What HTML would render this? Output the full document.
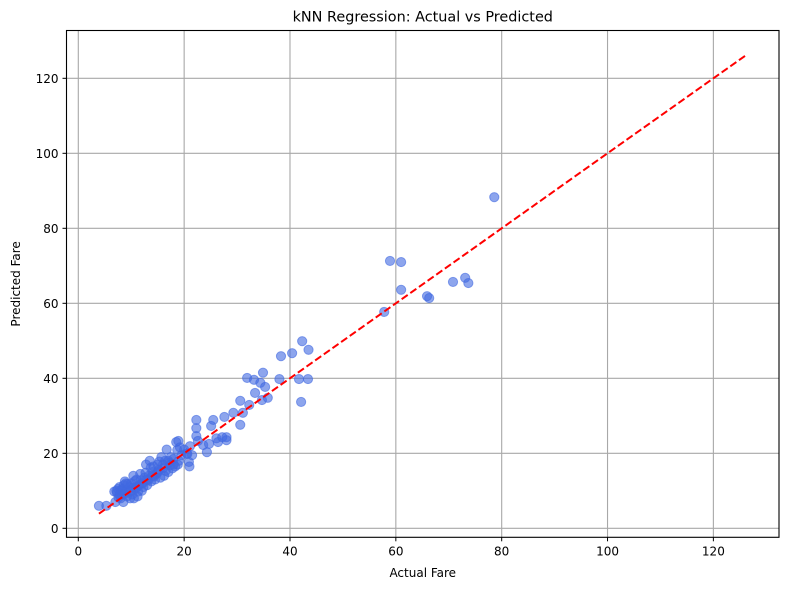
<!DOCTYPE html>
<html><head><meta charset="utf-8"><style>
body{margin:0;background:#fff;}
svg text{font-family:"DejaVu Sans","Liberation Sans",sans-serif;}
</style></head><body>
<svg id="chart" width="789" height="590" xmlns="http://www.w3.org/2000/svg"></svg>
<script>
const xTicks=[0,20,40,60,80,100,120];
const yTicks=[0,20,40,60,80,100,120];
const actual=[3.9,5.3,7,7.3,7.5,7.8,8,8.2,8.5,8.6,8.8,9,9.2,9.5,9.7,10,10.2,10.4,10.5,10.8,11,11.2,11.5,11.7,12,12.2,12.5,12.8,13,13.3,13.5,13.8,14,14.2,14.5,14.8,15,15.2,15.5,15.7,16,16.2,16.4,16.7,17,17.2,17.5,17.8,18,18.3,18.5,18.8,19,19.5,20,20.5,21,21.5,
7.2,7.8,8.3,8.7,9.3,9.8,10.3,10.7,11.3,11.8,12.3,12.7,13.2,13.7,14.3,15.3,16.5,17.3,9,8,6.8,7.6,10,11,12,13,14,15,16,17,18,
21.1,20.6,19.2,20.9,18.9,18.7,22.3,22.3,22.3,22.6,23.6,24.3,24.7,26.1,27.2,28,28,26.4,25.5,25.1,27.6,29.3,31.1,30.6,30.6,32.3,33.4,34.7,35.8,31.9,33.2,34.4,34.9,35.3,38,41.7,43.4,42.1,38.3,40.4,42.3,43.5,
57.8,58.9,61,61,65.9,66.3,70.8,73.1,73.7,78.6];
const predicted=[6,6,7,9.5,10.5,11,8,9,7,11.5,12.5,10,8.5,9.5,11,12,9,14,8,10.5,13,8.5,11.5,14.5,10,12,13.5,17,11.5,14,18,12.5,15,16.5,13,14.5,17,15.5,13.5,19,16,14,18,21,15,17.5,19,16,18.5,16.5,23,17,18,19.5,21,20,16.5,19.5,
10,9,10.5,9.2,11.8,8,10.8,12.6,9.8,12.8,11,14.8,12.8,16.2,13.8,17.8,15.3,16.8,12,10,9.8,8.2,10,11,12,13,14,15,17,18,17,
21.9,19.8,21.6,17.7,23.3,20.9,28.9,26.7,24.6,23.3,22.2,20.3,22.5,24,24.3,24.3,23.5,23,28.9,27.3,29.7,30.8,30.8,34,27.6,32.9,36.1,34.2,34.8,40.1,39.6,38.8,41.5,37.7,39.8,39.8,39.8,33.7,45.9,46.7,49.9,47.6,
57.7,71.3,71,63.6,61.9,61.4,65.7,66.8,65.4,88.3];
const L=66.5,R=779,T=30.5,B=537.3;
const xMin=-2.23,xMax=132.4,yMin=-2.4,yMax=132.75;
const sx=v=>L+(v-xMin)/(xMax-xMin)*(R-L);
const sy=v=>B-(v-yMin)/(yMax-yMin)*(B-T);
const svg=document.getElementById('chart');
const NS='http://www.w3.org/2000/svg';
function mk(tag,attrs,parent){const e=document.createElementNS(NS,tag);for(const k in attrs)e.setAttribute(k,attrs[k]);(parent||svg).appendChild(e);return e;}
xTicks.forEach(t=>{
 const g=mk('line',{x1:sx(t),x2:sx(t),y1:T,y2:B,stroke:'#a8a8a8','stroke-width':1.1});
 
 
 const tk=mk('line',{x1:sx(t),x2:sx(t),y1:B,y2:B+4,stroke:'#000'});
 
 
 const tx=mk('text',{x:sx(t),y:B+18,'text-anchor':'middle','font-size':12,fill:'#000'});
 tx.textContent=t;
 
 
});
yTicks.forEach(t=>{
 const g=mk('line',{x1:L,x2:R,y1:sy(t),y2:sy(t),stroke:'#a8a8a8','stroke-width':1.1});
 
 
 const tk=mk('line',{x1:L-4,x2:L,y1:sy(t),y2:sy(t),stroke:'#000'});
 
 
 const tx=mk('text',{x:L-8,y:sy(t)+4.5,'text-anchor':'end','font-size':12,fill:'#000'});
 tx.textContent=t;
 
 
});
actual.forEach((a,i)=>{
 const c=mk('circle',{cx:sx(a),cy:sy(predicted[i]),r:4.6,fill:'#4169e1','fill-opacity':0.6,stroke:'#4169e1','stroke-opacity':0.6,'stroke-width':1});
 
 
});
const lo=Math.min(...actual,...predicted);
const dl=mk('line',{x1:sx(lo),y1:sy(lo),x2:sx(126.4),y2:sy(126.4),stroke:'#ff0000','stroke-width':2,'stroke-dasharray':'7.4,3.2'});


const fr=mk('rect',{x:L,y:T,width:R-L,height:B-T,fill:'none',stroke:'#000','stroke-width':1.1});


const ti=mk('text',{x:(L+R)/2,y:T-9,'text-anchor':'middle','font-size':14.4,fill:'#000'});
ti.textContent='kNN Regression: Actual vs Predicted';


const xl=mk('text',{x:(L+R)/2,y:577,'text-anchor':'middle','font-size':12,fill:'#000'});
xl.textContent='Actual Fare';


const yl=mk('text',{x:20,y:(T+B)/2,'text-anchor':'middle','font-size':12,fill:'#000',transform:`rotate(-90 20 ${(T+B)/2})`});
yl.textContent='Predicted Fare';


</script>
</body></html>
